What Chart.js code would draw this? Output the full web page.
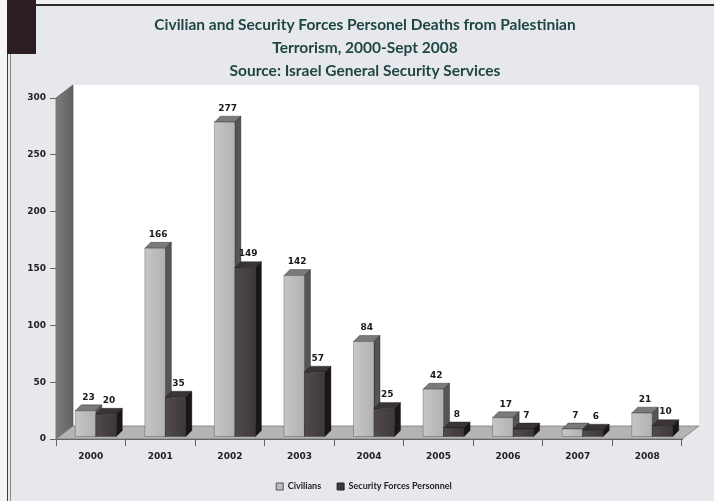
<!DOCTYPE html>
<html>
<head>
<meta charset="utf-8">
<title>Civilian and Security Forces Personel Deaths</title>
<script src="https://cdn.jsdelivr.net/npm/chart.js@4.4.1/dist/chart.umd.min.js"></script>
<style>
  html, body { margin: 0; padding: 0; background: #e6e8ec; }
  #wrap { position: relative; width: 714px; height: 501px; overflow: hidden; }
  #wrap div { position: absolute; }
  .edge { left: 0; top: 0; width: 7px; height: 501px; background: #f4f4f4; }
  .line-a { left: 7px; top: 0; width: 1px; height: 501px; background: #3a3a3a; }
  .line-b { left: 10px; top: 0; width: 1px; height: 501px; background: #8a8a8a; }
  .strip { left: 0; top: 0; width: 714px; height: 4px; background: #f2f2f2; }
  .rule { left: 36px; top: 4px; width: 678px; height: 2px; background: #2e2e2e; }
  .block { left: 7px; top: 0; width: 29px; height: 54px; background: #2b1d20; }
  canvas { position: absolute; left: 0; top: 0; }
</style>
</head>
<body>
<div id="wrap">
  <div class="edge"></div>
  <div class="strip"></div>
  <div class="line-a"></div>
  <div class="line-b"></div>
  <div class="rule"></div>
  <div class="block"></div>
  <canvas id="deathsChart" width="714" height="501"></canvas>
</div>
<script>
// --- data ---
const years = ['2000', '2001', '2002', '2003', '2004', '2005', '2006', '2007', '2008'];
const civilians = [23, 166, 277, 142, 84, 42, 17, 7, 21];
const securityForces = [20, 35, 149, 57, 25, 8, 7, 6, 10];
const yTickValues = [0, 50, 100, 150, 200, 250, 300];
const titleLines = [
    'Civilian and Security Forces Personel Deaths from Palestinian',
    'Terrorism, 2000-Sept 2008',
    'Source: Israel General Security Services'
];

// face colours for the fake 3D boxes: front, top, side
const faces = [
    { front: ['#c6c6c6', '#b2b2b2'], top: '#7a7a7a', side: '#555555' },
    { front: ['#504a4c', '#3e383a'], top: '#3a3436', side: '#1b1718' }
];
const WALL_DEPTH = { dx: 17, dy: -13 };
const BAR_DEPTH = { dx: 6, dy: -6 };
const BAR_SHIFT = { x: 5, y: -2 };

function poly(ctx, pts, fill, stroke) {
    ctx.beginPath();
    ctx.moveTo(pts[0][0], pts[0][1]);
    for (let i = 1; i < pts.length; i++) ctx.lineTo(pts[i][0], pts[i][1]);
    ctx.closePath();
    ctx.fillStyle = fill;
    ctx.fill();
    if (stroke) {
        ctx.strokeStyle = stroke;
        ctx.lineWidth = 0.7;
        ctx.stroke();
    }
}

// back wall, side wall, floor and the title, all behind the axes
const stagePlugin = {
    id: 'stage',
    beforeDraw(chart) {
        const { ctx, chartArea: a } = chart;
        const { dx, dy } = WALL_DEPTH;
        ctx.save();

        ctx.fillStyle = '#ffffff';
        ctx.fillRect(a.left + dx, a.top + dy, a.right - a.left, a.bottom - a.top);

        const wallGrad = ctx.createLinearGradient(a.left, 0, a.left + dx, 0);
        wallGrad.addColorStop(0, '#7c7c7c');
        wallGrad.addColorStop(1, '#626262');
        poly(ctx, [[a.left, a.top], [a.left + dx, a.top + dy], [a.left + dx, a.bottom + dy], [a.left, a.bottom]], wallGrad, '#555');

        poly(ctx, [[a.left, a.bottom], [a.left + dx, a.bottom + dy], [a.right + dx, a.bottom + dy], [a.right, a.bottom]], '#b4b4b4', '#6e6e6e');

        // title, squeezed a little to the Calibri width of the original
        ctx.font = 'bold 15.5px Lato, "Open Sans", sans-serif';
        ctx.fillStyle = '#1f4644';
        ctx.textAlign = 'center';
        ctx.textBaseline = 'middle';
        const squeeze = Math.min(1, 495 / ctx.measureText(titleLines[0]).width);
        const cx = 365;
        titleLines.forEach((line, i) => {
            ctx.save();
            ctx.translate(cx, 25 + i * 23);
            ctx.scale(squeeze, 1);
            ctx.fillText(line, 0, 0);
            ctx.restore();
        });
        ctx.restore();
    }
};

// draws the bars as boxes from the bar elements Chart.js laid out
const boxPlugin = {
    id: 'boxes',
    beforeDatasetsDraw(chart) {
        const ctx = chart.ctx;
        const { dx, dy } = BAR_DEPTH;
        const tops = [];
        ctx.save();
        for (let i = 0; i < chart.data.labels.length; i++) {
            chart.data.datasets.forEach((ds, d) => {
                const bar = chart.getDatasetMeta(d).data[i];
                const { x, y, base, width } = bar.getProps(['x', 'y', 'base', 'width'], true);
                const l = x - width / 2 + BAR_SHIFT.x;
                const r = x + width / 2 + BAR_SHIFT.x;
                const t = y + BAR_SHIFT.y;
                const b = base + BAR_SHIFT.y;
                const f = faces[d];

                poly(ctx, [[l, t], [l + dx, t + dy], [r + dx, t + dy], [r, t]], f.top, 'rgba(0,0,0,0.45)');
                poly(ctx, [[r, t], [r + dx, t + dy], [r + dx, b + dy], [r, b]], f.side, 'rgba(0,0,0,0.5)');
                const g = ctx.createLinearGradient(l, 0, r, 0);
                g.addColorStop(0, f.front[0]);
                g.addColorStop(1, f.front[1]);
                poly(ctx, [[l, t], [r, t], [r, b], [l, b]], g, 'rgba(0,0,0,0.35)');

                tops.push({ x: (l + r) / 2 + dx / 2, y: t + dy, v: ds.data[i] });
            });
        }
        ctx.font = 'bold 9px "DejaVu Sans", Verdana, sans-serif';
        ctx.fillStyle = '#1a1a1a';
        ctx.textAlign = 'center';
        ctx.textBaseline = 'bottom';
        tops.forEach(p => ctx.fillText(String(p.v), p.x, p.y - 3));
        ctx.restore();
        return false;
    }
};

const tickFont = { family: '"DejaVu Sans", Verdana, sans-serif', size: 9, weight: 'bold' };

new Chart(document.getElementById('deathsChart'), {
    type: 'bar',
    data: {
        labels: years,
        datasets: [
            { label: 'Civilians', data: civilians, backgroundColor: '#bdbdbd', borderColor: '#555', borderWidth: 1 },
            { label: 'Security Forces Personnel', data: securityForces, backgroundColor: '#3e383a', borderColor: '#222', borderWidth: 1 }
        ]
    },
    options: {
        responsive: false,
        animation: false,
        categoryPercentage: 0.59,
        barPercentage: 1,
        layout: { padding: { top: 98, left: 14, right: 0, bottom: 0 } },
        plugins: {
            legend: {
                position: 'bottom',
                labels: {
                    boxWidth: 7,
                    boxHeight: 7,
                    padding: 16,
                    color: '#222',
                    font: { family: 'Lato, sans-serif', size: 9, weight: 'bold' }
                }
            },
            title: { display: false },
            tooltip: { enabled: false }
        },
        scales: {
            x: {
                grid: { drawOnChartArea: false, tickLength: 7, color: '#666' },
                border: { color: '#666' },
                ticks: { font: tickFont, color: '#222', padding: 5 },
                afterFit(scale) { scale.height = 27; }
            },
            y: {
                min: 0,
                max: 300,
                afterBuildTicks(scale) { scale.ticks = yTickValues.map(v => ({ value: v })); },
                grid: { drawOnChartArea: false, tickLength: 6, color: '#666' },
                border: { color: '#777' },
                ticks: { font: tickFont, color: '#222', padding: 4 },
                afterFit(scale) { scale.width = 42; }
            },
            spacer: {
                position: 'right',
                grid: { display: false },
                border: { display: false },
                ticks: { display: false },
                afterFit(scale) { scale.width = 32; }
            }
        }
    },
    plugins: [stagePlugin, boxPlugin]
});
</script>
</body>
</html>
